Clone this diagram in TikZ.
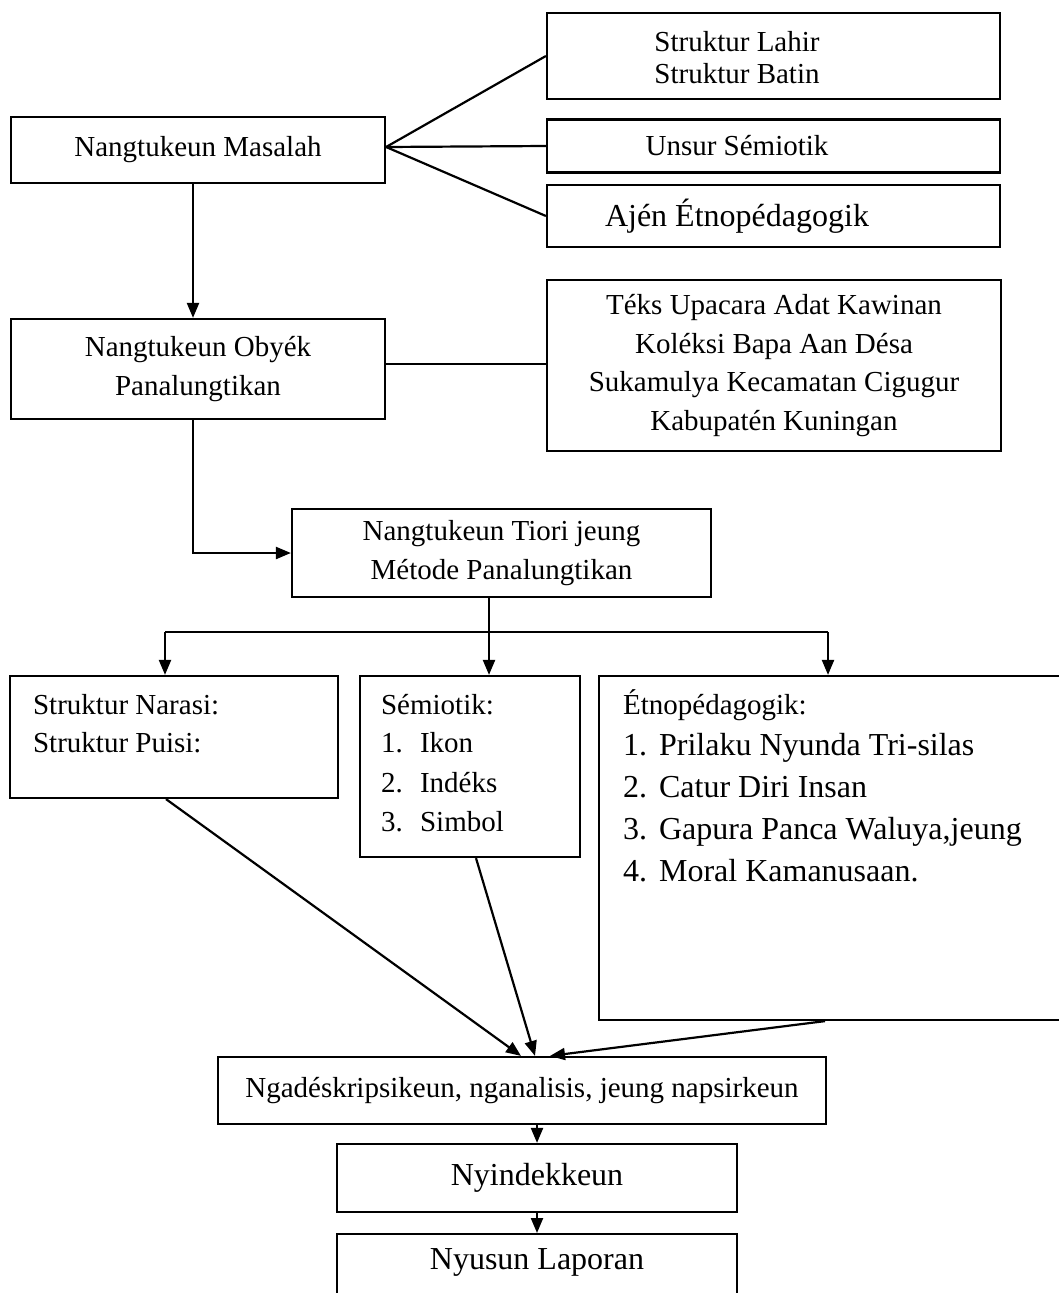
\documentclass[tikz,border=0pt]{standalone}
\usepackage{fontspec}
\setmainfont{Liberation Serif}
\usetikzlibrary{arrows.meta}
\tikzset{>/.tip={Triangle[length=15pt,width=12pt]},
  box/.style={draw, line width=2.2pt, inner sep=0pt},
  sm/.style={inner sep=0pt, font=\fontsize{29}{38.5}\selectfont},
  lg/.style={inner sep=0pt, font=\fontsize{32}{40}\selectfont}}

\begin{document}
\begin{tikzpicture}[x=1pt, y=-1pt, line width=2.2pt]
\clip (0,0) rectangle (1059,1293);
\node[box, sm, minimum width=374, minimum height=66] (masalah) at (198,150) {Nangtukeun Masalah};
\node[box, minimum width=453, minimum height=86] (lahir) at (773.5,56) {};
\node[box, minimum width=453, minimum height=53] (unsur) at (773.5,146) {};
\node[box, minimum width=453, minimum height=62] (ajen) at (773.5,216) {};
\node[sm, align=center, font=\fontsize{29}{32}\selectfont] (lahir-t) at (737,58) {Struktur Lahir\\Struktur Batin};
\node[sm] (unsur-t) at (737,146) {Unsur Sémiotik};
\node[lg] (ajen-t) at (737,216) {Ajén Étnopédagogik};

\node[box, sm, align=center, minimum width=374, minimum height=100] (obyek) at (198,369) {Nangtukeun Obyék\\Panalungtikan};
\node[box, sm, align=center, minimum width=454, minimum height=171] (teks) at (774,365.5) {Téks Upacara Adat Kawinan\\Koléksi Bapa Aan Désa\\Sukamulya Kecamatan Cigugur\\Kabupatén Kuningan};
\node[box, sm, align=center, minimum width=419, minimum height=88] (tiori) at (501.5,553) {Nangtukeun Tiori jeung\\Métode Panalungtikan};

\node[box, minimum width=328, minimum height=122] (narasi) at (174,737) {};
\node[box, minimum width=220, minimum height=181] (semiotik) at (470,766.5) {};
\node[box, minimum width=501, minimum height=344] (etno) at (849.5,848) {};

\node[sm, anchor=base west] (narasi-1) at (32,714) {Struktur Narasi:};
\node[sm, anchor=base west] (narasi-2) at (32,752) {Struktur Puisi:};

\node[sm, anchor=base west] (semiotik-h) at (380,714) {Sémiotik:};
\node[sm, anchor=base west] (semiotik-1) at (380,752) {\makebox[39pt][l]{1.}Ikon};
\node[sm, anchor=base west] (semiotik-2) at (380,792) {\makebox[39pt][l]{2.}Indéks};
\node[sm, anchor=base west] (semiotik-3) at (380,831) {\makebox[39pt][l]{3.}Simbol};

\node[sm, anchor=base west] (etno-h) at (622,714) {Étnopédagogik:};
\node[lg, anchor=base west] (etno-1) at (622,755) {\makebox[36pt][l]{1.}Prilaku Nyunda Tri-silas};
\node[lg, anchor=base west] (etno-2) at (622,797) {\makebox[36pt][l]{2.}Catur Diri Insan};
\node[lg, anchor=base west] (etno-3) at (622,839) {\makebox[36pt][l]{3.}Gapura Panca Waluya,jeung};
\node[lg, anchor=base west] (etno-4) at (622,881) {\makebox[36pt][l]{4.}Moral Kamanusaan.};

\node[box, sm, minimum width=608, minimum height=67] (ngadeskrip) at (522,1090.5) {Ngadéskripsikeun, nganalisis, jeung napsirkeun};
\node[box, lg, minimum width=400, minimum height=68] (nyindek) at (537,1178) {Nyindekkeun};
\node[box, minimum width=400, minimum height=120, anchor=north] (laporan) at (537,1233) {};
\node[lg] (laporan-t) at (537,1262) {Nyusun Laporan};

\coordinate (fan) at ([yshift=3]masalah.east);
\coordinate (split) at (489,632);
\coordinate (barL) at (165,632);
\coordinate (barR) at (828,632);

\draw (fan) -- (lahir.west);
\draw (fan) -- (unsur.west);
\draw (fan) -- (ajen.west);
\draw[->] ([xshift=-5]masalah.south) -- ([xshift=-5]obyek.north);
\draw ([yshift=5]obyek.east) -- ([yshift=5]obyek.east -| teks.west);
\draw[->] ([xshift=-5]obyek.south) |- (tiori.west);
\draw (tiori.south -| split) -- (split);
\draw (barL) -- (barR);
\draw[->] (barL) -- (barL |- narasi.north);
\draw[->] (split) -- (split |- semiotik.north);
\draw[->] (barR) -- (barR |- etno.north);
\draw[->] ([xshift=-8]narasi.south) -- ([xshift=-1]ngadeskrip.north);
\draw[->] ([xshift=6]semiotik.south) -- ([xshift=13]ngadeskrip.north);
\draw[->] ([xshift=-24.5]etno.south) -- ([xshift=28]ngadeskrip.north);
\draw[->] (ngadeskrip.south -| nyindek.north) -- (nyindek.north);
\draw[->] (nyindek) -- (laporan);
\end{tikzpicture}
\end{document}
